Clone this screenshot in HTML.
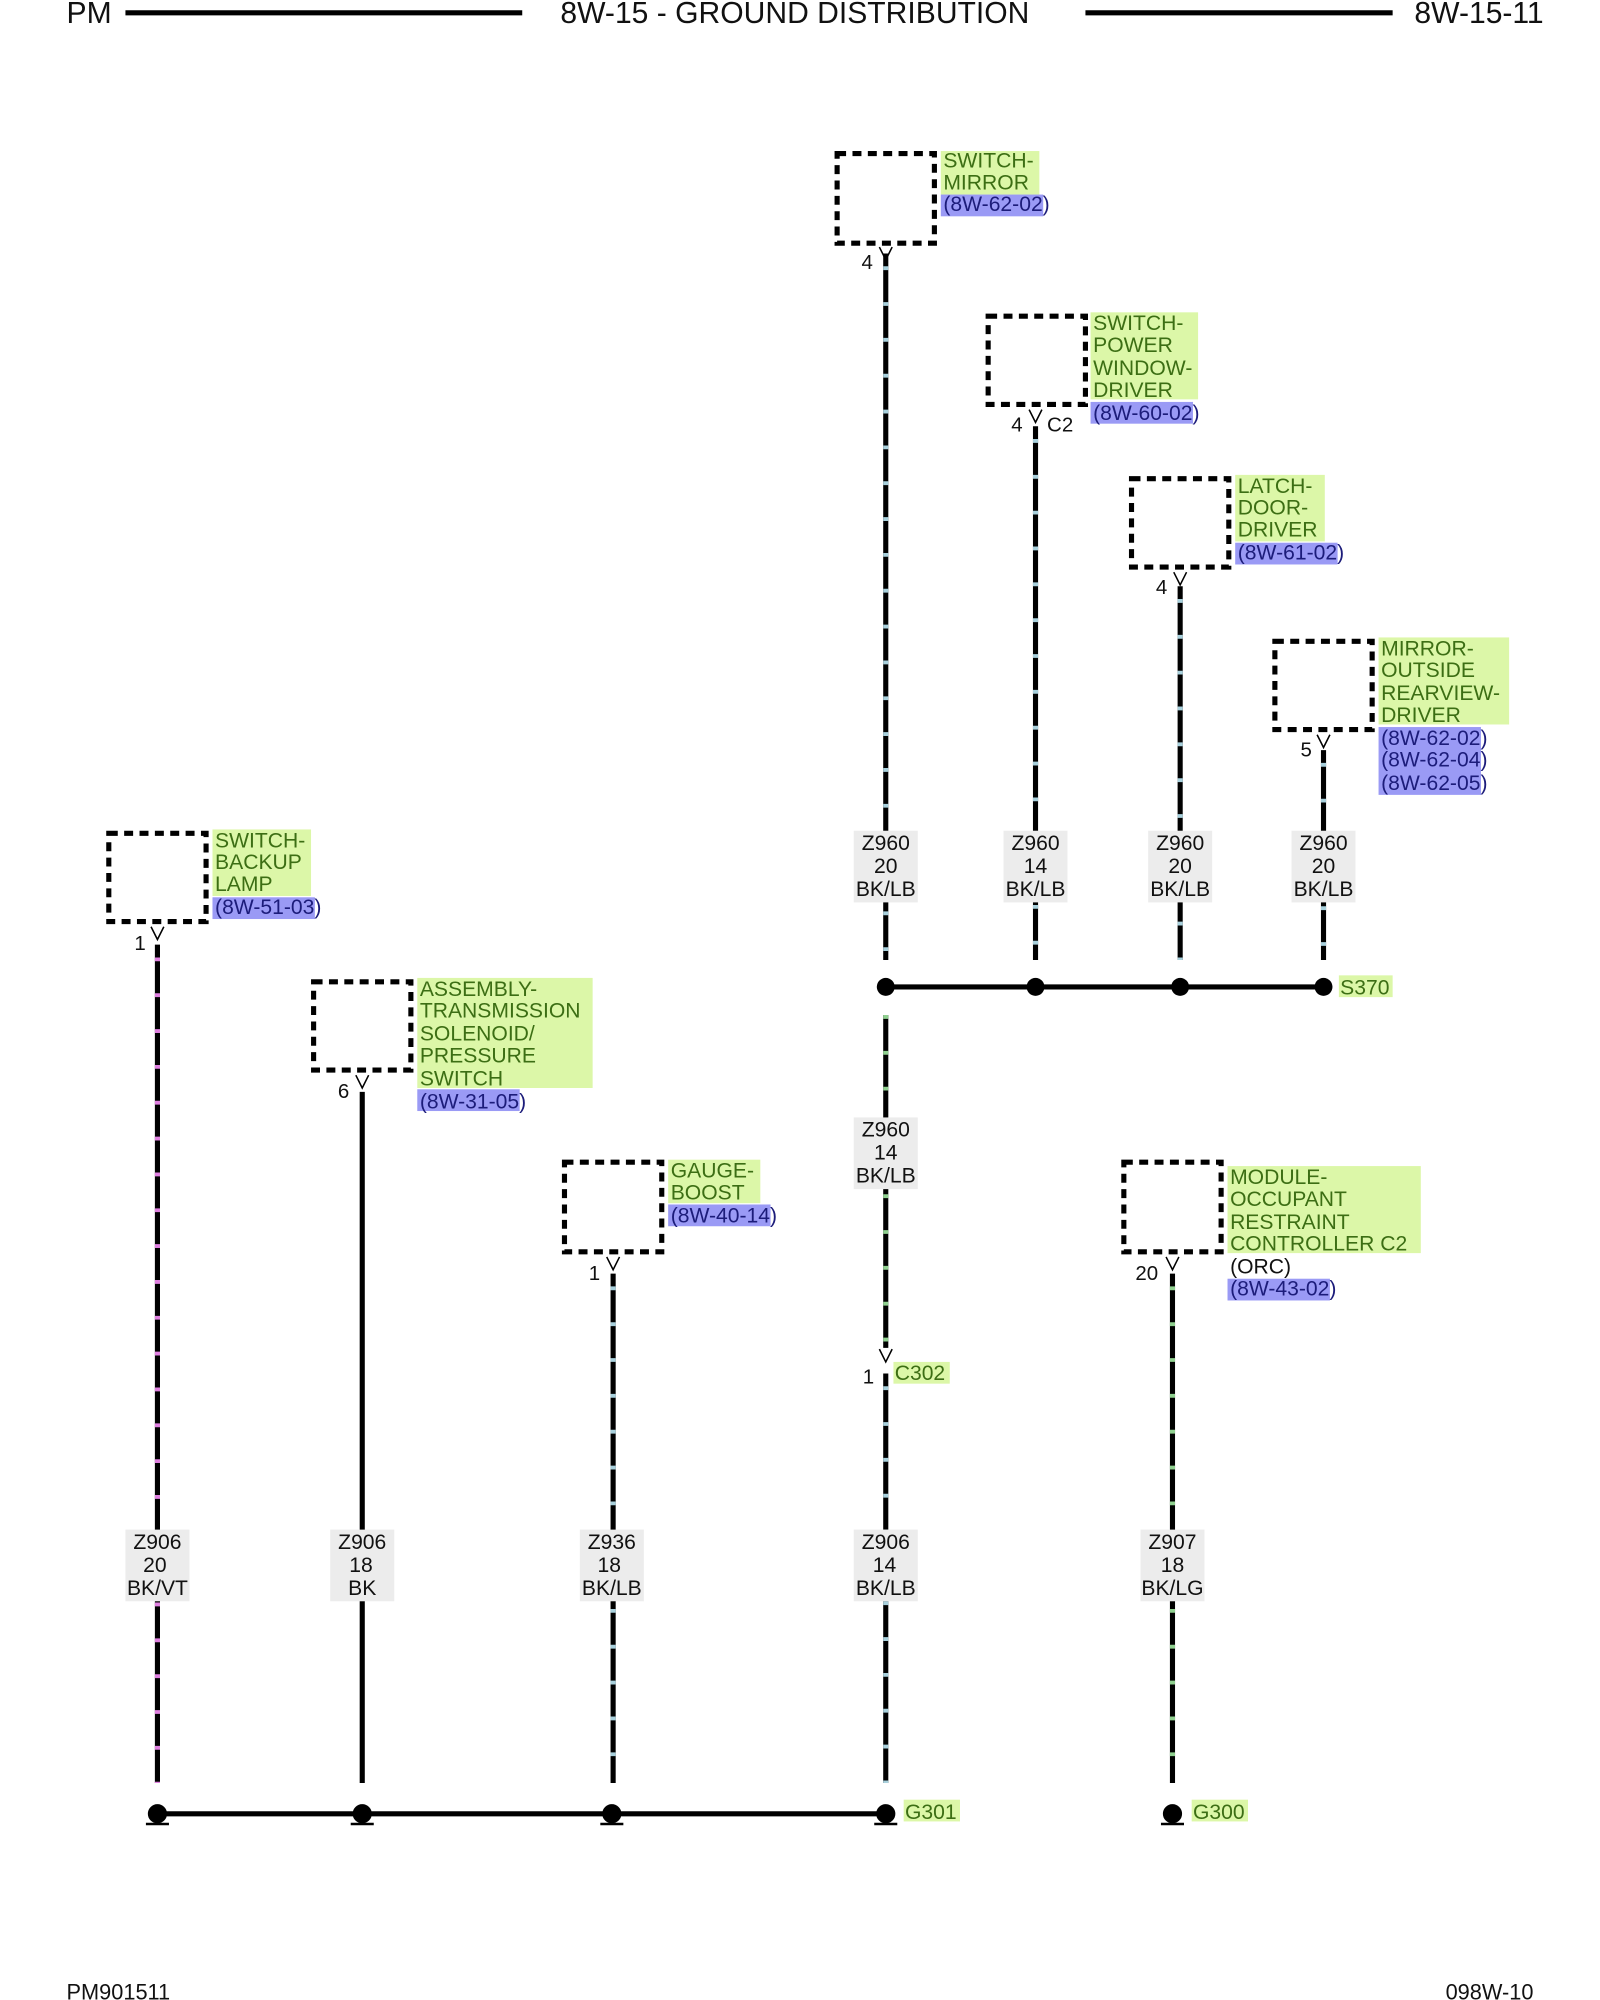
<!DOCTYPE html>
<html><head><meta charset="utf-8"><style>
html,body{margin:0;padding:0;background:#fff}
svg{display:block}
text{font-family:"Liberation Sans",sans-serif}
</style></head><body>
<svg width="1600" height="2000" viewBox="0 0 1250 1562.5" xmlns="http://www.w3.org/2000/svg">
<rect width="1250" height="1562.5" fill="#fff"/>
<!-- header -->
<g font-size="23.5" fill="#111">
<text x="52" y="18">PM</text>
<text x="621" y="18" text-anchor="middle">8W-15 - GROUND DISTRIBUTION</text>
<text x="1206" y="18" text-anchor="end">8W-15-11</text>
</g>
<line x1="98" y1="10" x2="408" y2="10" stroke="#000" stroke-width="4"/>
<line x1="848" y1="10" x2="1088" y2="10" stroke="#000" stroke-width="4"/>
<g font-size="17" fill="#111">
<text x="52" y="1562">PM901511</text>
<text x="1198" y="1562" text-anchor="end">098W-10</text>
</g>
<g transform="translate(-2,-2)">
<!-- wires -->
<g stroke-width="4" fill="none">
<line x1="694" y1="200" x2="694" y2="752" stroke="#000"/>
<line x1="694" y1="210" x2="694" y2="752" stroke="#a8d0dc" stroke-dasharray="3 25"/>
<line x1="811" y1="335" x2="811" y2="752" stroke="#000"/>
<line x1="811" y1="345" x2="811" y2="752" stroke="#a8d0dc" stroke-dasharray="3 25"/>
<line x1="924" y1="460" x2="924" y2="752" stroke="#000"/>
<line x1="924" y1="470" x2="924" y2="752" stroke="#a8d0dc" stroke-dasharray="3 25"/>
<line x1="1036" y1="588" x2="1036" y2="752" stroke="#000"/>
<line x1="1036" y1="598" x2="1036" y2="752" stroke="#a8d0dc" stroke-dasharray="3 25"/>
<line x1="694" y1="795" x2="694" y2="1055" stroke="#000"/>
<line x1="694" y1="795" x2="694" y2="1055" stroke="#8fd08f" stroke-dasharray="3 25"/>
<line x1="694" y1="1075" x2="694" y2="1395" stroke="#000"/>
<line x1="694" y1="1085" x2="694" y2="1395" stroke="#a8d0dc" stroke-dasharray="3 25"/>
<line x1="125" y1="740" x2="125" y2="1395" stroke="#000"/>
<line x1="125" y1="750" x2="125" y2="1395" stroke="#e080e0" stroke-dasharray="3 25"/>
<line x1="285" y1="855" x2="285" y2="1395" stroke="#000"/>
<line x1="481" y1="997" x2="481" y2="1395" stroke="#000"/>
<line x1="481" y1="1007" x2="481" y2="1395" stroke="#a8d0dc" stroke-dasharray="3 25"/>
<line x1="918" y1="997" x2="918" y2="1395" stroke="#000"/>
<line x1="918" y1="1007" x2="918" y2="1395" stroke="#8fd08f" stroke-dasharray="3 25"/>
</g>

<!-- boxes -->
<g fill="none" stroke="#000" stroke-width="4" stroke-dasharray="7 5">
<rect x="656" y="122" width="76" height="70"/>
<rect x="774" y="249" width="76" height="69"/>
<rect x="886" y="376" width="76" height="69"/>
<rect x="998" y="503" width="76" height="69"/>
<rect x="87" y="653" width="76" height="69"/>
<rect x="247" y="769" width="76" height="69"/>
<rect x="443" y="910" width="76" height="70"/>
<rect x="880" y="910" width="76" height="70"/>
</g>
<g stroke="#000" stroke-width="1.2" fill="none">
<polyline points="689,195 694,205 699,195"/>
<polyline points="806,322 811,332 816,322"/>
<polyline points="919,449 924,459 929,449"/>
<polyline points="1031,576 1036,586 1041,576"/>
<polyline points="120,726 125,736 130,726"/>
<polyline points="280,842 285,852 290,842"/>
<polyline points="476,984 481,994 486,984"/>
<polyline points="913,984 918,994 923,984"/>
<polyline points="689,1056 694,1066 699,1056"/>
</g>
<g font-size="16" fill="#111">
<text x="675" y="212">4</text>
<text x="792" y="339">4</text>
<text x="820" y="339">C2</text>
<text x="905" y="466">4</text>
<text x="1018" y="593">5</text>
<text x="107" y="744">1</text>
<text x="266" y="860">6</text>
<text x="462" y="1002">1</text>
<text x="889" y="1002">20</text>
<text x="676" y="1083">1</text>
</g>

<g font-size="16.5">
<rect x="737" y="120" width="77" height="34" fill="#dcf7a8"/>
<rect x="737" y="154" width="80" height="17" fill="#9a9af5"/>
<text x="739" y="133" fill="#3c6e14">SWITCH-</text>
<text x="739" y="150" fill="#3c6e14">MIRROR</text>
<text x="739" y="167" fill="#1c1c7a">(8W-62-02)</text>

<rect x="854" y="246" width="84" height="68" fill="#dcf7a8"/>
<rect x="854" y="316" width="80" height="17" fill="#9a9af5"/>
<text x="856" y="260" fill="#3c6e14">SWITCH-</text>
<text x="856" y="277" fill="#3c6e14">POWER</text>
<text x="856" y="295" fill="#3c6e14">WINDOW-</text>
<text x="856" y="312" fill="#3c6e14">DRIVER</text>
<text x="856" y="330" fill="#1c1c7a">(8W-60-02)</text>

<rect x="967" y="373" width="70" height="52" fill="#dcf7a8"/>
<rect x="967" y="426" width="80" height="17" fill="#9a9af5"/>
<text x="969" y="387" fill="#3c6e14">LATCH-</text>
<text x="969" y="404" fill="#3c6e14">DOOR-</text>
<text x="969" y="421" fill="#3c6e14">DRIVER</text>
<text x="969" y="439" fill="#1c1c7a">(8W-61-02)</text>

<rect x="1079" y="500" width="102" height="68" fill="#dcf7a8"/>
<rect x="1079" y="570" width="80" height="53" fill="#9a9af5"/>
<text x="1081" y="514" fill="#3c6e14">MIRROR-</text>
<text x="1081" y="531" fill="#3c6e14">OUTSIDE</text>
<text x="1081" y="549" fill="#3c6e14">REARVIEW-</text>
<text x="1081" y="566" fill="#3c6e14">DRIVER</text>
<text x="1081" y="584" fill="#1c1c7a">(8W-62-02)</text>
<text x="1081" y="601" fill="#1c1c7a">(8W-62-04)</text>
<text x="1081" y="619" fill="#1c1c7a">(8W-62-05)</text>

<rect x="168" y="650" width="77" height="52" fill="#dcf7a8"/>
<rect x="168" y="703" width="80" height="17" fill="#9a9af5"/>
<text x="170" y="664" fill="#3c6e14">SWITCH-</text>
<text x="170" y="681" fill="#3c6e14">BACKUP</text>
<text x="170" y="698" fill="#3c6e14">LAMP</text>
<text x="170" y="716" fill="#1c1c7a">(8W-51-03)</text>

<rect x="328" y="766" width="137" height="86" fill="#dcf7a8"/>
<rect x="328" y="853" width="80" height="17" fill="#9a9af5"/>
<text x="330" y="780" fill="#3c6e14">ASSEMBLY-</text>
<text x="330" y="797" fill="#3c6e14">TRANSMISSION</text>
<text x="330" y="815" fill="#3c6e14">SOLENOID/</text>
<text x="330" y="832" fill="#3c6e14">PRESSURE</text>
<text x="330" y="850" fill="#3c6e14">SWITCH</text>
<text x="330" y="868" fill="#1c1c7a">(8W-31-05)</text>

<rect x="524" y="908" width="72" height="34" fill="#dcf7a8"/>
<rect x="524" y="943" width="80" height="17" fill="#9a9af5"/>
<text x="526" y="922" fill="#3c6e14">GAUGE-</text>
<text x="526" y="939" fill="#3c6e14">BOOST</text>
<text x="526" y="957" fill="#1c1c7a">(8W-40-14)</text>

<rect x="961" y="913" width="151" height="68" fill="#dcf7a8"/>
<rect x="961" y="1001" width="80" height="17" fill="#9a9af5"/>
<text x="963" y="927" fill="#3c6e14">MODULE-</text>
<text x="963" y="944" fill="#3c6e14">OCCUPANT</text>
<text x="963" y="962" fill="#3c6e14">RESTRAINT</text>
<text x="963" y="979" fill="#3c6e14">CONTROLLER C2</text>
<text x="963" y="997" fill="#111">(ORC)</text>
<text x="963" y="1014" fill="#1c1c7a">(8W-43-02)</text>

<rect x="700" y="1066" width="44" height="17" fill="#dcf7a8"/>
<text x="701" y="1080" fill="#3c6e14">C302</text>
<rect x="1048" y="764" width="42" height="17" fill="#dcf7a8"/>
<text x="1049" y="779" fill="#3c6e14">S370</text>
<rect x="708" y="1408" width="44" height="17" fill="#dcf7a8"/>
<text x="709" y="1423" fill="#3c6e14">G301</text>
<rect x="933" y="1408" width="44" height="17" fill="#dcf7a8"/>
<text x="934" y="1423" fill="#3c6e14">G300</text>
</g>

<g font-size="16.5" fill="#111" text-anchor="middle">
<rect x="669" y="651" width="50" height="56" fill="#ececec"/>
<text x="694" y="666">Z960</text><text x="694" y="684">20</text><text x="694" y="702">BK/LB</text>
<rect x="786" y="651" width="50" height="56" fill="#ececec"/>
<text x="811" y="666">Z960</text><text x="811" y="684">14</text><text x="811" y="702">BK/LB</text>
<rect x="899" y="651" width="50" height="56" fill="#ececec"/>
<text x="924" y="666">Z960</text><text x="924" y="684">20</text><text x="924" y="702">BK/LB</text>
<rect x="1011" y="651" width="50" height="56" fill="#ececec"/>
<text x="1036" y="666">Z960</text><text x="1036" y="684">20</text><text x="1036" y="702">BK/LB</text>
<rect x="669" y="875" width="50" height="56" fill="#ececec"/>
<text x="694" y="890">Z960</text><text x="694" y="908">14</text><text x="694" y="926">BK/LB</text>
<rect x="100" y="1197" width="50" height="56" fill="#ececec"/>
<text x="125" y="1212">Z906</text><text x="123" y="1230">20</text><text x="125" y="1248">BK/VT</text>
<rect x="260" y="1197" width="50" height="56" fill="#ececec"/>
<text x="285" y="1212">Z906</text><text x="284" y="1230">18</text><text x="285" y="1248">BK</text>
<rect x="455" y="1197" width="50" height="56" fill="#ececec"/>
<text x="480" y="1212">Z936</text><text x="478" y="1230">18</text><text x="480" y="1248">BK/LB</text>
<rect x="669" y="1197" width="50" height="56" fill="#ececec"/>
<text x="694" y="1212">Z906</text><text x="693" y="1230">14</text><text x="694" y="1248">BK/LB</text>
<rect x="893" y="1197" width="50" height="56" fill="#ececec"/>
<text x="918" y="1212">Z907</text><text x="918" y="1230">18</text><text x="918" y="1248">BK/LG</text>
</g>

<line x1="694" y1="773" x2="1036" y2="773" stroke="#000" stroke-width="4"/>
<g fill="#000">
<circle cx="694" cy="773" r="7"/><circle cx="811" cy="773" r="7"/><circle cx="924" cy="773" r="7"/><circle cx="1036" cy="773" r="7"/>
</g>
<line x1="125" y1="1419" x2="694" y2="1419" stroke="#000" stroke-width="4"/>
<g fill="#000" stroke="#000">
<g><circle cx="125" cy="1419" r="7"/><line x1="116" y1="1427" x2="134" y2="1427" stroke-width="2"/></g>
<g><circle cx="285" cy="1419" r="7"/><line x1="276" y1="1427" x2="294" y2="1427" stroke-width="2"/></g>
<g><circle cx="480" cy="1419" r="7"/><line x1="471" y1="1427" x2="489" y2="1427" stroke-width="2"/></g>
<g><circle cx="694" cy="1419" r="7"/><line x1="685" y1="1427" x2="703" y2="1427" stroke-width="2"/></g>
<g><circle cx="918" cy="1419" r="7"/><line x1="909" y1="1427" x2="927" y2="1427" stroke-width="2"/></g>
</g>
</g>
</svg>
</body></html>
